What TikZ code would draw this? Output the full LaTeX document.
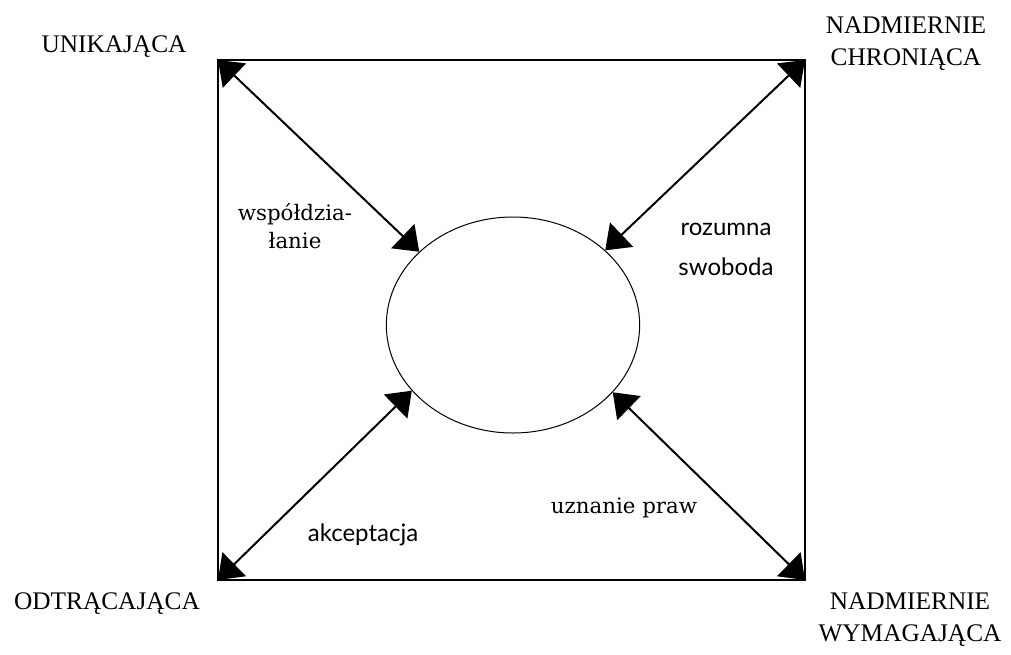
\documentclass[tikz,border=0pt]{standalone}
\usepackage{fontspec}
\setmainfont{Liberation Serif}
\newfontfamily\slabfont{DejaVu Serif}
\newfontfamily\lightfont{Lato}
\usetikzlibrary{shapes.geometric,arrows.meta}
\tikzset{
  corner/.style={font=\fontsize{19}{24}\selectfont,align=center,inner sep=1pt},
  slablbl/.style={font=\slabfont\fontsize{16}{21}\selectfont,align=center,inner sep=1pt},
  sanslbl/.style={font=\lightfont\fontsize{18}{30}\selectfont,align=center,inner sep=1pt},
  dbl/.style={line width=1.5pt,{Triangle[length=17pt,width=25pt]}-{Triangle[length=17pt,width=25pt]}}
}
\begin{document}
\begin{tikzpicture}[x=0.75pt,y=-0.75pt]
\useasboundingbox (0,0) rectangle (1011,654);
\coordinate (UL) at (218,60);
\coordinate (UR) at (805,60);
\coordinate (LL) at (218,580);
\coordinate (LR) at (805,580);
\draw[line width=1.6pt] (UL) rectangle (LR);
\node[draw,ellipse,line width=0.75pt,minimum width=190pt,minimum height=162pt,inner sep=0pt] (C) at (513,325) {};
\draw[dbl] (UL) -- (C.142);
\draw[dbl] (UR) -- (C.39);
\draw[dbl] (LL) -- (C.213);
\draw[dbl] (LR) -- (C.326);
% corner labels
\node[corner] (unik) at (114,47) {UNIKAJĄCA};
\node[corner] (chron) at (906,44) {NADMIERNIE\\CHRONIĄCA};
\node[corner] (odtr) at (107,604) {ODTRĄCAJĄCA};
\node[corner] (wymag) at (910,620) {NADMIERNIE\\WYMAGAJĄCA};
% arrow labels
\node[slablbl] (wspol) at (295,226) {współdzia-\\łanie};
\node[sanslbl] (swob) at (726,249) {rozumna\\swoboda};
\node[sanslbl] (akcep) at (363,535) {akceptacja};
\node[slablbl] (prawa) at (624,508) {uznanie praw};
\end{tikzpicture}
\end{document}
